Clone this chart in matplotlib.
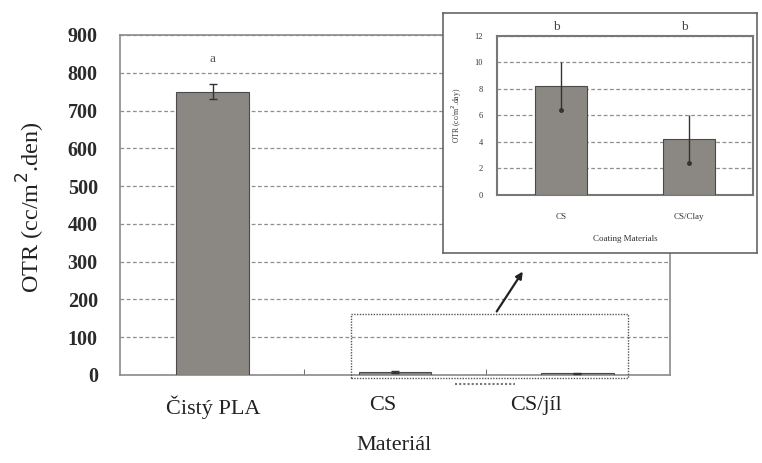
import matplotlib
matplotlib.use("Agg")
import matplotlib.pyplot as plt
from matplotlib.patches import Rectangle
import matplotlib.transforms as mtrans
import numpy as np

# ---- data ----
categories = ["Čistý PLA", "CS", "CS/jíl"]
otr_values = [750, 8.2, 4.2]
otr_errors = [20, 1.8, 1.8]
sig_letters = ["a", "", ""]
main_yticks = [0, 100, 200, 300, 400, 500, 600, 700, 800, 900]

inset_categories = ["CS", "CS/Clay"]
inset_values = [8.2, 4.2]
inset_errors = [1.8, 1.8]
inset_letters = ["b", "b"]
inset_yticks = [0, 2, 4, 6, 8, 10, 12]

plt.rcParams['font.family'] = ['Liberation Serif', 'DejaVu Serif']

BAR = '#8b8782'
EDGE = '#4a4a4a'
GRID = '#8f8f8f'
FRAME = '#8a8a8a'

fig = plt.figure(figsize=(7.62, 4.63), dpi=100)
W, H = 762, 463

def fbox(x0, y0, x1, y1):
    return [x0 / W, 1 - y1 / H, (x1 - x0) / W, (y1 - y0) / H]

# ---- main axes ----
ax = fig.add_axes(fbox(120, 35, 670, 375))
x = np.arange(len(categories))
ax.bar(x, otr_values, width=0.4, color=BAR, edgecolor=EDGE, linewidth=0.8, zorder=3)
ax.errorbar(x, otr_values, yerr=otr_errors, fmt='none', ecolor='#333333',
            elinewidth=1.0, capsize=3, zorder=4)
for xi, v, e, t in zip(x, otr_values, otr_errors, sig_letters):
    if t:
        ax.text(xi, v + e + 67, t, ha='center', va='center', fontsize=9.5, color='#555555')
ax.set_xlim(-0.51, 2.51)
ax.set_ylim(0, 900)
ax.set_yticks(main_yticks)
ax.set_yticklabels([str(t) for t in main_yticks], fontsize=14.5, fontweight='bold',
                   color='#2a2a2a')
ax.tick_params(axis='y', length=0, pad=16)
ax.set_xticks(x)
ax.set_xticklabels(categories, fontsize=16, color='#222222')
ax.tick_params(axis='x', length=0, pad=15)
offsets = [0, -12, -41]
for lab, dx in zip(ax.get_xticklabels(), offsets):
    lab.set_transform(lab.get_transform() +
                      mtrans.ScaledTranslation(dx / 100, 0, fig.dpi_scale_trans))
ax.set_xticks([0.5, 1.5], minor=True)
ax.tick_params(axis='x', which='minor', direction='in', length=4, color='#555555')
ax.yaxis.grid(True, linestyle=(0, (3, 2)), color=GRID, linewidth=0.9, zorder=0)
ax.set_axisbelow(True)
for s in ax.spines.values():
    s.set_color(FRAME)
    s.set_linewidth(1.2)
ax.set_ylabel("OTR (cc/m$^{2}$.den)", fontsize=17.5, color='#222222')
ax.yaxis.set_label_coords(-(120 - 47) / 550, (375 - 207) / 340)
ax.set_xlabel("Materiál", fontsize=16, color='#222222')
ax.xaxis.set_label_coords((394 - 120) / 550, -(436 - 375) / 340)

# dotted selection rectangle, arrow, small dotted line
ax.add_patch(Rectangle((0.76, -8), 1.52, 170, fill=False, linestyle=(0, (1, 1)),
                       edgecolor='#555555', linewidth=1.0, clip_on=False, zorder=5))
ax.annotate("", xy=(1.71, 280), xytext=(1.55, 162),
            arrowprops=dict(arrowstyle='-|>', color='#222222', lw=1.6,
                            mutation_scale=10), annotation_clip=False, zorder=6)
ax.plot([1.33, 1.66], [-25, -25], linestyle=(0, (1, 1)), color='#777777',
        linewidth=1.5, clip_on=False)

# ---- inset background box ----
bg = fig.add_axes(fbox(443, 13, 757, 253))
bg.set_xticks([]); bg.set_yticks([])
for s in bg.spines.values():
    s.set_linestyle((0, (1, 1)))
    s.set_color('#666666')
    s.set_linewidth(1.2)

# ---- inset axes ----
ia = fig.add_axes(fbox(497, 36, 753, 195))
xi = np.arange(len(inset_categories))
ia.bar(xi, inset_values, width=0.4, color=BAR, edgecolor=EDGE, linewidth=0.8, zorder=3)
ia.errorbar(xi, inset_values, yerr=inset_errors, fmt='none', ecolor='#333333',
            elinewidth=1.0, capsize=0, zorder=4)
ia.plot(xi, np.array(inset_values) - np.array(inset_errors), 'o', ms=2.5,
        color='#333333', zorder=5)
for xx, t in zip(xi, inset_letters):
    ia.text(xx - 0.04, 12.7, t, ha='center', va='center', fontsize=9.5, color='#444444')
ia.set_xlim(-0.5, 1.5)
ia.set_ylim(0, 12)
ia.set_yticks(inset_yticks)
ia.set_yticklabels([str(t) for t in inset_yticks], fontsize=6, color='#333333')
ia.tick_params(axis='y', length=0, pad=10)
ia.set_xticks(xi)
ia.set_xticklabels(inset_categories, fontsize=6.5, color='#333333')
ia.tick_params(axis='x', length=0, pad=13)
ia.yaxis.grid(True, linestyle=(0, (3, 2)), color=GRID, linewidth=0.9, zorder=0)
ia.set_axisbelow(True)
for s in ia.spines.values():
    s.set_color('#777777')
    s.set_linewidth(1.5)
ia.set_ylabel("OTR (cc/m$^{2}$.day)", fontsize=5.5, color='#333333', labelpad=8)
ia.set_xlabel("Coating Materials", fontsize=6.5, color='#333333', labelpad=10)

fig.savefig("out.png", dpi=100)
